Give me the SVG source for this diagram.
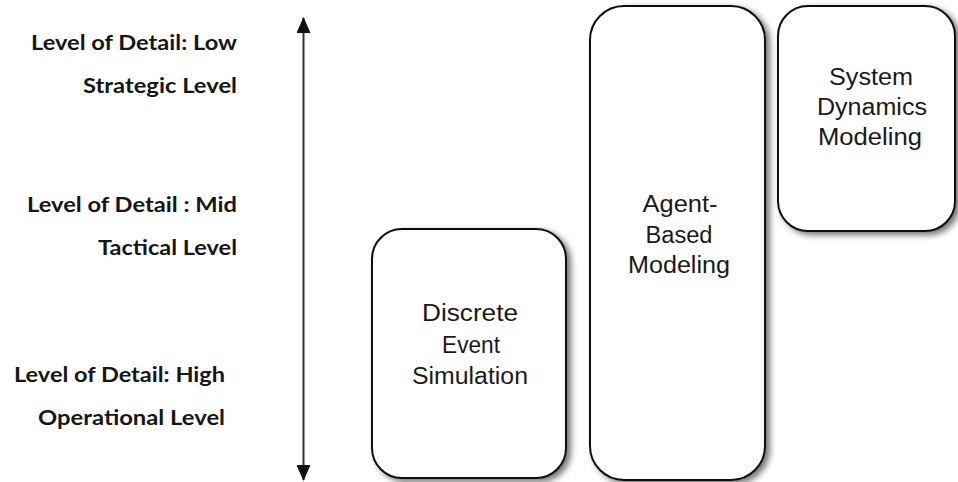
<svg xmlns="http://www.w3.org/2000/svg" width="958" height="482" viewBox="0 0 958 482">
  <style>
    .lvl { font-family: Lato, "Open Sans", "Liberation Sans", sans-serif; font-weight: bold; font-size: 21px; fill: #161616; text-anchor: end; }
    .box { fill: #ffffff; stroke: #111111; stroke-width: 2; }
    .lbl { font-family: "Liberation Sans", Arial, sans-serif; font-size: 23.5px; fill: #1a1a1a; text-anchor: middle; }
    .axis { stroke: #333333; stroke-width: 2; fill: none; }
  </style>
  <defs>
    <filter id="shadow" x="-10%" y="-10%" width="130%" height="130%">
      <feGaussianBlur in="SourceAlpha" stdDeviation="3"/>
      <feOffset dx="4" dy="3" result="blur"/>
      <feComponentTransfer><feFuncA type="linear" slope="0.55"/></feComponentTransfer>
      <feMerge><feMergeNode/><feMergeNode in="SourceGraphic"/></feMerge>
    </filter>
    <marker id="tip" viewBox="0 0 16 14" refX="15" refY="7" markerWidth="16" markerHeight="14" markerUnits="userSpaceOnUse" orient="auto-start-reverse">
      <path d="M0,0 L16,7 L0,14 z" fill="#111111"/>
    </marker>
  </defs>

  <rect width="958" height="482" fill="#ffffff"/>

  <!-- level labels along the axis -->
  <g id="levels">
    <text class="lvl" x="237" y="50" textLength="206" lengthAdjust="spacingAndGlyphs">Level of Detail: Low</text>
    <text class="lvl" x="237" y="93" textLength="154" lengthAdjust="spacingAndGlyphs">Strategic Level</text>
    <text class="lvl" x="237" y="212" textLength="210" lengthAdjust="spacingAndGlyphs">Level of Detail : Mid</text>
    <text class="lvl" x="237" y="255" textLength="139" lengthAdjust="spacingAndGlyphs">Tactical Level</text>
    <text class="lvl" x="225" y="382" textLength="211" lengthAdjust="spacingAndGlyphs">Level of Detail: High</text>
    <text class="lvl" x="225" y="425" textLength="187" lengthAdjust="spacingAndGlyphs">Operational Level</text>
  </g>

  <!-- double-headed detail axis -->
  <g id="connectors">
    <line class="axis" x1="303.5" y1="18" x2="303.5" y2="480" marker-start="url(#tip)" marker-end="url(#tip)"/>
  </g>

  <g id="des">
    <rect class="box" x="372" y="229" width="194" height="249" rx="30" filter="url(#shadow)"/>
    <text class="lbl" x="470" y="321" textLength="96" lengthAdjust="spacingAndGlyphs">Discrete</text>
    <text class="lbl" x="471" y="353" textLength="58" lengthAdjust="spacingAndGlyphs">Event</text>
    <text class="lbl" x="470" y="384" textLength="116" lengthAdjust="spacingAndGlyphs">Simulation</text>
  </g>

  <g id="abm">
    <rect class="box" x="590" y="6" width="175" height="474" rx="34" filter="url(#shadow)"/>
    <text class="lbl" x="680" y="212" textLength="75" lengthAdjust="spacingAndGlyphs">Agent-</text>
    <text class="lbl" x="679" y="243" textLength="67" lengthAdjust="spacingAndGlyphs">Based</text>
    <text class="lbl" x="679" y="273" textLength="102" lengthAdjust="spacingAndGlyphs">Modeling</text>
  </g>

  <g id="sdm">
    <rect class="box" x="778" y="6" width="177" height="225" rx="30" filter="url(#shadow)"/>
    <text class="lbl" x="871" y="85" textLength="84" lengthAdjust="spacingAndGlyphs">System</text>
    <text class="lbl" x="872" y="115" textLength="110" lengthAdjust="spacingAndGlyphs">Dynamics</text>
    <text class="lbl" x="870" y="145" textLength="104" lengthAdjust="spacingAndGlyphs">Modeling</text>
  </g>
</svg>
